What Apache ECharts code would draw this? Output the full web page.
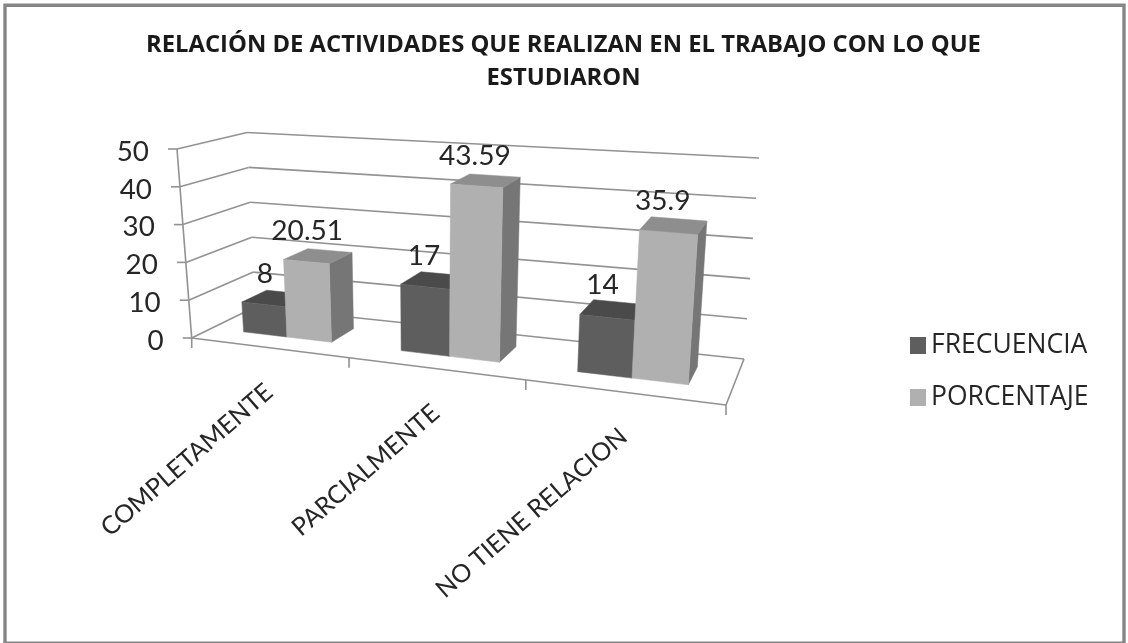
<!DOCTYPE html>
<html><head><meta charset="utf-8">
<style>html,body{margin:0;padding:0;background:#fff}#c{width:1128px;height:643px;filter:blur(0.4px)}</style>
<script src="https://cdn.jsdelivr.net/npm/echarts@6/dist/echarts.min.js"></script>
</head><body><div id="c"></div>
<script>
const titleText = 'RELACIÓN DE ACTIVIDADES QUE REALIZAN EN EL TRABAJO CON LO QUE\nESTUDIARON';
const categories = ['COMPLETAMENTE', 'PARCIALMENTE', 'NO TIENE RELACION'];
const frecuencia = [8, 17, 14];
const porcentaje = [20.51, 43.59, 35.9];
const yTicks = [0, 10, 20, 30, 40, 50];

// Perspective box: floor corners (front-left, front-right, back-right, back-left) and the wall height vector at each
const FLOOR = [[191.7,338],[726,405],[744,359],[255,307]];
const RISE  = [[-14.7,-189],[15,-215],[15,-201],[-8,-174.5]];
const WARP = 1.06; // foreshortening along the category axis
const BAR_FRAC = 0.2857, D0 = 0.30, D1 = 0.70;
const FONT = 'Lato, "Open Sans", sans-serif';
const WIDE = '"Open Sans", Lato, sans-serif';
const TEXT = '#262626', AXIS = '#929292';

function homography(q){
  const [[x0,y0],[x1,y1],[x2,y2],[x3,y3]] = q;
  const dx1=x1-x2, dx2=x3-x2, sx=x0-x1+x2-x3, dy1=y1-y2, dy2=y3-y2, sy=y0-y1+y2-y3;
  const den=dx1*dy2-dx2*dy1, g=(sx*dy2-dx2*sy)/den, h=(dx1*sy-sx*dy1)/den;
  const a=x1-x0+g*x1, b=x3-x0+h*x3, c=x0, d=y1-y0+g*y1, e=y3-y0+h*y3, f=y0;
  return (u,v)=>{const w=g*u+h*v+1;return [(a*u+b*v+c)/w,(d*u+e*v+f)/w];};
}
const hFloor = homography(FLOOR);
function project(u,d,v){
  const uw=u*WARP/(1+(WARP-1)*u);
  const p=hFloor(uw,d);
  const mix=i=>(RISE[0][i]*(1-u)+RISE[1][i]*u)*(1-d)+(RISE[3][i]*(1-u)+RISE[2][i]*u)*d;
  return [p[0]+mix(0)*v, p[1]+mix(1)*v];
}
function norm(params, pt){
  const s=params.coordSys;
  return {u:(pt[0]-s.x)/s.width, v:(s.y+s.height-pt[1])/s.height};
}
const line=(a,b,w)=>({type:'line',shape:{x1:a[0],y1:a[1],x2:b[0],y2:b[1]},style:{stroke:AXIS,lineWidth:w||1.6,fill:null}});
const poly=(pts,fill)=>({type:'polygon',shape:{points:pts},style:{fill:fill,stroke:fill,lineWidth:0.5}});
const label=(txt,p,size,extra)=>Object.assign({type:'text',x:p[0],y:p[1],style:{text:txt,fill:TEXT,font:size+'px '+FONT,align:'center',verticalAlign:'middle'}},extra||{});

function renderYAxis(params,api){
  const tick=api.value(1), v=norm(params,api.coord([0,tick])).v;
  const a=project(0,0,v), b=project(0,1,v), c=project(1,1,v);
  const kids=[line(a,b),line(b,c),line([a[0]-9,a[1]],a)];
  if(tick===0){
    kids.push(line(project(0,0,0),project(1,0,0)), line(project(1,0,0),project(1,1,0)));
  }
  if(params.dataIndex<yTicks.length-1){
    const up=norm(params,api.coord([0,yTicks[params.dataIndex+1]])).v;
    kids.push(line(a,project(0,0,up)));
  }
  const t=label(String(tick),[a[0]-28,a[1]+3.5],26,{scaleX:1.07});
  t.style.align='right';
  kids.push(t);
  return {type:'group',children:kids};
}
function renderXAxis(params,api){
  const i=api.value(0), band=api.size([1,0])[0], w=params.coordSys.width;
  const c=norm(params,api.coord([i,0])).u, half=band/w/2;
  const tick=u=>{const p=project(u,0,0);return line(p,[p[0],p[1]+10]);};
  const kids=[tick(c-half)];
  if(i===categories.length-1) kids.push(tick(c+half));
  const m=project(c,0,0);
  const t=label(categories[i],[m[0]+1,m[1]+41],25,{rotation:41*Math.PI/180});
  t.style.align='right';
  kids.push(t);
  return {type:'group',children:kids};
}
function barRenderer(side,colors){
  return function(params,api){
    const i=api.value(0), val=api.value(1), w=params.coordSys.width;
    const n=norm(params,api.coord([i,val])), bw=api.size([1,0])[0]/w*BAR_FRAC;
    const u0=side<0?n.u-bw:n.u, u1=side<0?n.u:n.u+bw, v=n.v;
    const P=project;
    const front=[P(u0,D0,0),P(u1,D0,0),P(u1,D0,v),P(u0,D0,v)];
    const top=[P(u0,D0,v),P(u1,D0,v),P(u1,D1,v),P(u0,D1,v)];
    const right=[P(u1,D0,0),P(u1,D1,0),P(u1,D1,v),P(u1,D0,v)];
    const anchor=P((u0+u1)/2,0.5,v);
    return {type:'group',children:[
      poly(right,colors[2]),poly(top,colors[1]),poly(front,colors[0]),
      label(String(val),[anchor[0]-11,anchor[1]-24],26,{scaleX:1.08})
    ]};
  };
}
const chart=echarts.init(document.getElementById('c'),null,{renderer:'canvas'});
chart.setOption({
  animation:false,
  backgroundColor:'#fff',
  title:{text:titleText,left:558.5,top:24,textAlign:'center',textStyle:{fontFamily:WIDE,fontWeight:'bold',fontSize:23.8,lineHeight:33,color:'#1a1a1a'}},
  grid:{left:192,top:149,width:534,height:189},
  xAxis:{type:'category',data:categories,show:false},
  yAxis:{type:'value',min:0,max:50,interval:10,show:false},
  legend:{orient:'vertical',left:905,top:327,itemWidth:16,itemHeight:17,itemGap:25,icon:'rect',
    data:['FRECUENCIA','PORCENTAJE'],selectedMode:false,
    textStyle:{fontFamily:WIDE,fontSize:26.5,color:TEXT}},
  graphic:[{type:'rect',shape:{x:5,y:5.3,width:1119,height:638},style:{fill:'none',stroke:'#868686',lineWidth:3.4},silent:true}],
  series:[
    {type:'custom',name:'ejeY',silent:true,z:1,clip:false,data:yTicks.map(t=>[0,t]),encode:{x:0,y:1},renderItem:renderYAxis},
    {type:'custom',name:'ejeX',silent:true,z:1,clip:false,data:categories.map((c,i)=>[i,0]),encode:{x:0,y:1},renderItem:renderXAxis},
    {type:'custom',name:'FRECUENCIA',silent:true,z:2,clip:false,itemStyle:{color:'#5e5e5e'},data:frecuencia.map((v,i)=>[i,v]),encode:{x:0,y:1},renderItem:barRenderer(-1,['#5e5e5e','#4a4a4a','#474747'])},
    {type:'custom',name:'PORCENTAJE',silent:true,z:3,clip:false,itemStyle:{color:'#b0b0b0'},data:porcentaje.map((v,i)=>[i,v]),encode:{x:0,y:1},renderItem:barRenderer(1,['#b0b0b0','#8e8e8e','#767676'])}
  ]
});
</script></body></html>
